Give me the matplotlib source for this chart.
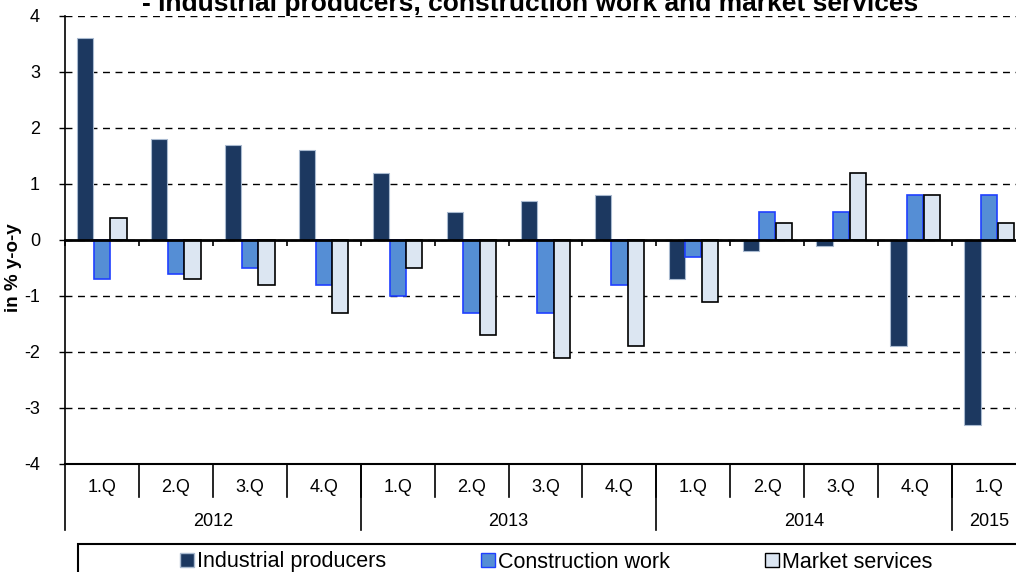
import numpy as np
import matplotlib
matplotlib.use('Agg')
import matplotlib.pyplot as plt
from matplotlib.patches import Patch, Rectangle
import matplotlib.transforms as mtransforms

plt.rcParams['font.family'] = ['Liberation Sans', 'DejaVu Sans']
plt.rcParams['axes.unicode_minus'] = False

# Data
quarters = ['1.Q', '2.Q', '3.Q', '4.Q', '1.Q', '2.Q', '3.Q', '4.Q',
            '1.Q', '2.Q', '3.Q', '4.Q', '1.Q']
years = ['2012', '2013', '2014', '2015']
year_sizes = [4, 4, 4, 1]
industrial = [3.6, 1.8, 1.7, 1.6, 1.2, 0.5, 0.7, 0.8, -0.7, -0.2, -0.1, -1.9, -3.3]
construction = [-0.7, -0.6, -0.5, -0.8, -1.0, -1.3, -1.3, -0.8, -0.3, 0.5, 0.5, 0.8, 0.8]
market = [0.4, -0.7, -0.8, -1.3, -0.5, -1.7, -2.1, -1.9, -1.1, 0.3, 1.2, 0.8, 0.3]

c_ind, e_ind = '#1C3860', '#A9BAD0'
c_con, e_con = '#558ED5', '#1F3FFF'
c_mkt, e_mkt = '#DCE6F2', '#000000'

fig = plt.figure(figsize=(10.16, 5.72), dpi=100)
W, H = 1016, 572
ax = fig.add_axes([65 / W, (H - 464) / H, 961 / W, 448 / H])

x = np.arange(len(quarters)) + 0.5
w = 0.22
ax.bar(x - 0.225, industrial, w, color=c_ind, edgecolor=e_ind, linewidth=0.8, zorder=3)
ax.bar(x, construction, w, color=c_con, edgecolor=e_con, linewidth=1.2, zorder=3)
ax.bar(x + 0.225, market, w, color=c_mkt, edgecolor=e_mkt, linewidth=1.2, zorder=3)

ax.set_xlim(0, len(quarters))
ax.set_ylim(-4, 4)
ax.set_yticks(range(-4, 5))
ax.tick_params(axis='y', labelsize=13, length=4, width=1, pad=14, colors='black')

# dashed gridlines
ax.yaxis.grid(True, color='black', linestyle=(0, (5, 4)), linewidth=1)
ax.set_axisbelow(True)

# category axis sits on zero
ax.spines['bottom'].set_position(('data', 0))
ax.spines['bottom'].set_linewidth(2)
ax.spines['bottom'].set_zorder(4)
ax.set_xticks(np.arange(0, len(quarters) + 1))
ax.set_xticklabels([])
ax.tick_params(axis='x', direction='out', length=4, width=1.2)
ax.spines['top'].set_visible(False)
ax.spines['right'].set_visible(False)
ax.spines['left'].set_linewidth(1.2)
ax.axhline(-4, color='black', linewidth=1.5, zorder=4, clip_on=False)

# multi-level category labels below the plot
trans = mtransforms.blended_transform_factory(ax.transData, ax.transAxes)
y_q_lab = (464 - 487) / 448
y_q_end = (464 - 497) / 448
y_y_lab = (464 - 521) / 448
y_y_end = (464 - 530) / 448
for i, q in enumerate(quarters):
    ax.text(x[i], y_q_lab, q, transform=trans, ha='center', va='center', fontsize=13)
for b in range(1, len(quarters)):
    ax.plot([b, b], [0, y_q_end], transform=trans, color='black', lw=1.2, clip_on=False)
start = 0
for yr, n in zip(years, year_sizes):
    ax.text(start + n / 2, y_y_lab, yr, transform=trans, ha='center', va='center', fontsize=13)
    ax.plot([start, start], [0, y_y_end], transform=trans, color='black', lw=1.2, clip_on=False)
    start += n

# title (first line is cut off in the original)
fig.text(530 / W, (H - 11) / H, '- Industrial producers, construction work and market services',
         ha='center', va='baseline', fontsize=19, fontweight='bold')

fig.text(14 / W, (H - 268) / H, 'in % y-o-y', rotation=90, ha='center', va='center',
         fontsize=13.5, fontweight='bold')

# legend box
fig.patches.append(Rectangle((78 / W, -0.1), 1.0, (H - 544) / H + 0.1, transform=fig.transFigure,
                             facecolor='white', edgecolor='black', linewidth=1.5))
handles = [Patch(facecolor=c_ind, edgecolor=e_ind, label='Industrial producers'),
           Patch(facecolor=c_con, edgecolor=e_con, label='Construction work'),
           Patch(facecolor=c_mkt, edgecolor=e_mkt, label='Market services')]
fig.legend(handles=handles, ncol=3, loc='center', bbox_to_anchor=(556 / W, (H - 562) / H),
           frameon=False, fontsize=15.5, handlelength=0.65, handleheight=0.65,
           handletextpad=0.15, columnspacing=4.4, borderpad=0)

fig.savefig('out.png', dpi=100)
